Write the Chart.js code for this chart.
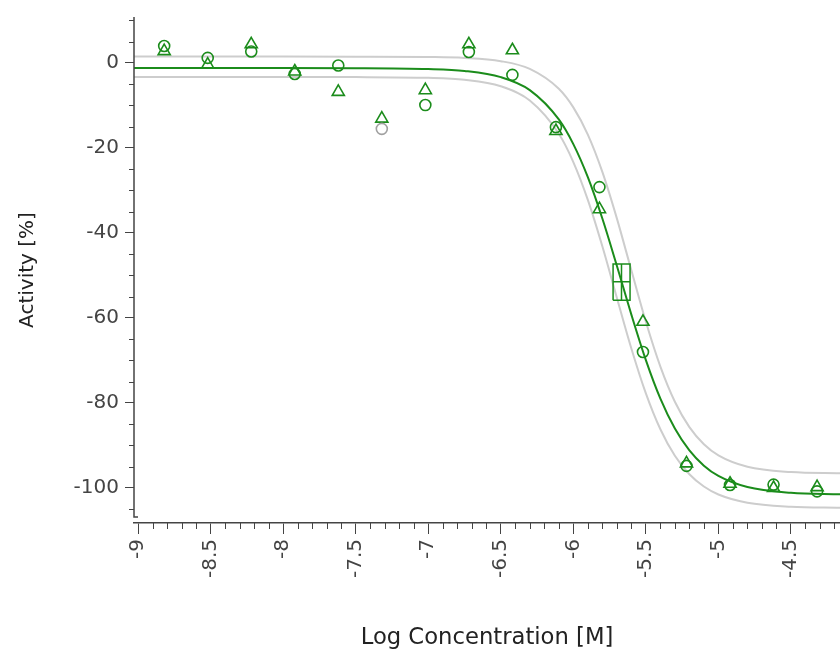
<!DOCTYPE html>
<html>
<head>
<meta charset="utf-8">
<script src="https://cdn.jsdelivr.net/npm/chart.js@4"></script>
<style>
  html, body { margin: 0; padding: 0; background: #fff; overflow: hidden; }
</style>
</head>
<body>
<canvas id="myChart" width="840" height="654"></canvas>
<script>
// log concentrations of the dilution series
const logConc = [-8.82, -8.52, -8.22, -7.92, -7.62, -7.32, -7.02, -6.72,
                 -6.42, -6.12, -5.82, -5.52, -5.22, -4.92, -4.62, -4.32];

// replicate 1 (circles) and replicate 2 (triangles), activity in %
const rep1 = [4.0, 1.2, 2.7, -2.6, -0.6, -15.5, -9.9, 2.6,
              -2.8, -15.1, -29.2, -68.0, -94.8, -99.3, -99.2, -100.8];
const rep2 = [2.8, -0.4, 4.4, -2.0, -6.8, -13.1, -6.4, 4.4,
              3.0, -16.0, -34.4, -60.9, -94.2, -99.0, -100.0, -99.8];
// points left out of the fit (drawn grey)
const rep1Excluded = [5];

// fitted curve and its confidence band
const fitX = [-9.03, -8.5, -8, -7.5, -7, -6.75, -6.5, -6.3, -6.1, -6.0, -5.9, -5.8,
              -5.7, -5.6, -5.5, -5.4, -5.3, -5.2, -5.1, -5.0, -4.8, -4.5, -4.16];
const fitY = [-1.2, -1.2, -1.2, -1.22, -1.42, -1.88, -3.33, -6.38, -13.28, -19.09, -26.87, -36.59,
              -47.71, -59.2, -69.91, -78.97, -86.02, -91.17, -94.76, -97.17, -99.79, -101.14, -101.5];
const upperY = [1.5, 1.5, 1.5, 1.49, 1.41, 1.2, 0.43, -1.39, -6.07, -10.45, -16.85, -25.62,
                -36.56, -48.79, -60.88, -71.43, -79.71, -85.68, -89.71, -92.33, -95.01, -96.25, -96.54];
const lowerY = [-3.3, -3.3, -3.3, -3.32, -3.5, -3.96, -5.48, -8.83, -16.66, -23.32, -32.22, -43.14,
                -55.24, -67.17, -77.74, -86.19, -92.43, -96.77, -99.66, -101.53, -103.47, -104.41, -104.64];

// IC50 marker box: low, centre, high
const ic50X = [-5.726, -5.668, -5.609];
const ic50Y = [-55.8, -51.5, -47.3];

// axes
const xTickValues = [-9, -8.5, -8, -7.5, -7, -6.5, -6, -5.5, -5, -4.5];
const xTickLabels = ['-9', '-8.5', '-8', '-7.5', '-7', '-6.5', '-6', '-5.5', '-5', '-4.5'];
const yTickValues = [0, -20, -40, -60, -80, -100];
const yTickLabels = ['0', '-20', '-40', '-60', '-80', '-100'];

const green = '#1b8c1b';
const grey = '#a0a0a0';
const axisColor = '#444444';
const tickFont = { family: 'DejaVu Sans', size: 20 };

const pts = (xs, ys) => xs.map((x, i) => ({ x: x, y: ys[i] }));

// rectangle with a cross through the middle, gaps as nulls
const ic50Path = [
    { x: ic50X[0], y: ic50Y[0] }, { x: ic50X[0], y: ic50Y[2] },
    { x: ic50X[2], y: ic50Y[2] }, { x: ic50X[2], y: ic50Y[0] },
    { x: ic50X[0], y: ic50Y[0] }, { x: ic50X[1], y: null },
    { x: ic50X[1], y: ic50Y[0] }, { x: ic50X[1], y: ic50Y[2] },
    { x: ic50X[1], y: null },
    { x: ic50X[0], y: ic50Y[1] }, { x: ic50X[2], y: ic50Y[1] }
];

// minor ticks and the y axis line (it stops just above the x axis)
const axisExtras = {
    id: 'axisExtras',
    afterDraw(chart) {
        const { ctx, chartArea, scales: { x, y } } = chart;
        ctx.save();
        ctx.strokeStyle = axisColor;
        ctx.lineWidth = 1.5;
        const yEnd = y.getPixelForValue(-106.8);
        ctx.beginPath();
        ctx.moveTo(chartArea.left, chartArea.top);
        ctx.lineTo(chartArea.left, yEnd);
        ctx.lineTo(chartArea.left + 4, yEnd);
        ctx.stroke();

        ctx.lineWidth = 1;
        ctx.beginPath();
        for (let i = -90; i <= -42; i++) {
            if (i % 5 === 0) continue;
            const px = Math.round(x.getPixelForValue(i / 10)) + 0.5;
            ctx.moveTo(px, chartArea.bottom);
            ctx.lineTo(px, chartArea.bottom + 6);
        }
        for (let v = -105; v <= 10; v += 5) {
            if (v % 20 === 0) continue;
            const py = Math.round(y.getPixelForValue(v)) + 0.5;
            ctx.moveTo(chartArea.left, py);
            ctx.lineTo(chartArea.left - 5, py);
        }
        ctx.stroke();
        ctx.restore();
    }
};

const config = {
    type: 'scatter',
    data: {
        datasets: [
            {
                label: 'Replicate 1',
                data: pts(logConc, rep1),
                pointStyle: 'circle',
                pointRadius: 5.5,
                pointBorderWidth: 1.6,
                pointBackgroundColor: 'rgba(0,0,0,0)',
                pointBorderColor: ctx => rep1Excluded.includes(ctx.dataIndex) ? grey : green
            },
            {
                label: 'Replicate 2',
                data: pts(logConc, rep2),
                pointStyle: 'triangle',
                pointRadius: 7,
                pointBorderWidth: 1.6,
                pointBackgroundColor: 'rgba(0,0,0,0)',
                pointBorderColor: green
            },
            {
                label: 'IC50',
                data: ic50Path,
                showLine: true,
                spanGaps: false,
                borderColor: green,
                borderWidth: 1.5,
                pointRadius: 0
            },
            {
                label: 'Fit',
                data: pts(fitX, fitY),
                showLine: true,
                borderColor: green,
                borderWidth: 2,
                pointRadius: 0,
                cubicInterpolationMode: 'monotone'
            },
            {
                label: 'Upper',
                data: pts(fitX, upperY),
                showLine: true,
                borderColor: '#cdcdcd',
                borderWidth: 2,
                pointRadius: 0,
                cubicInterpolationMode: 'monotone'
            },
            {
                label: 'Lower',
                data: pts(fitX, lowerY),
                showLine: true,
                borderColor: '#cdcdcd',
                borderWidth: 2,
                pointRadius: 0,
                cubicInterpolationMode: 'monotone'
            }
        ]
    },
    options: {
        responsive: false,
        animation: false,
        layout: { autoPadding: false, padding: { top: 17, left: 0, right: 0, bottom: 0 } },
        plugins: {
            legend: { display: false },
            tooltip: { enabled: false }
        },
        scales: {
            x: {
                type: 'linear',
                min: -9.028,
                max: -4.162,
                afterFit: s => { s.height = 131; s.paddingLeft = 0; s.paddingRight = 0; },
                afterBuildTicks: s => { s.ticks = xTickValues.map(v => ({ value: v })); },
                ticks: {
                    callback: (v, i) => xTickLabels[i],
                    minRotation: 90,
                    maxRotation: 90,
                    padding: 5,
                    color: '#444',
                    font: tickFont
                },
                grid: {
                    drawOnChartArea: false,
                    drawTicks: true,
                    tickLength: 11,
                    tickColor: axisColor,
                    tickWidth: 1
                },
                border: { display: true, color: axisColor, width: 1.5 },
                title: {
                    display: true,
                    text: 'Log Concentration [M]',
                    color: '#222',
                    font: { family: 'DejaVu Sans', size: 22.7 },
                    padding: { top: 0, bottom: 2 }
                }
            },
            y: {
                type: 'linear',
                min: -108.24,
                max: 10.82,
                afterFit: s => { s.width = 134; s.paddingTop = 0; s.paddingBottom = 0; },
                afterBuildTicks: s => { s.ticks = yTickValues.map(v => ({ value: v })); },
                ticks: {
                    callback: (v, i) => yTickLabels[i],
                    padding: 6,
                    color: '#444',
                    font: tickFont
                },
                grid: {
                    drawOnChartArea: false,
                    drawTicks: true,
                    tickLength: 9,
                    tickColor: axisColor,
                    tickWidth: 1
                },
                border: { display: false },
                title: {
                    display: true,
                    text: 'Activity [%]',
                    color: '#222',
                    font: { family: 'DejaVu Sans', size: 20 },
                    padding: { top: 16, bottom: 0 }
                }
            }
        }
    },
    plugins: [axisExtras]
};

const myChart = new Chart(document.getElementById('myChart'), config);
</script>
</body>
</html>
